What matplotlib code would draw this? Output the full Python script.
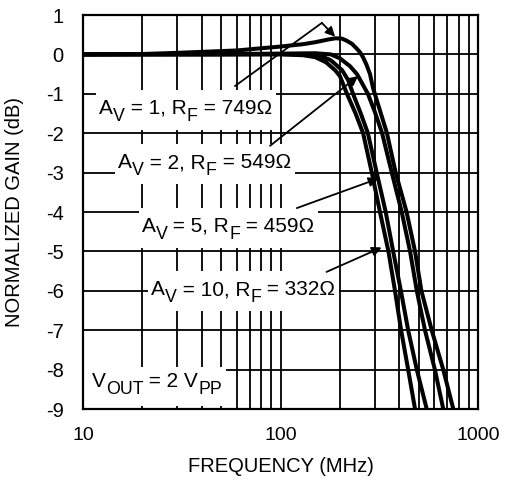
import matplotlib
matplotlib.use('Agg')
import matplotlib.pyplot as plt
import matplotlib.transforms as mtransforms
from matplotlib.patches import Rectangle
from matplotlib.ticker import NullFormatter

plt.rcParams['font.family'] = ['Liberation Sans', 'DejaVu Sans']
plt.rcParams['axes.unicode_minus'] = False

# curvas (frecuencia en MHz, ganancia en dB)
av1_f = [10, 20, 30, 60, 100, 130, 150, 175, 190, 205, 216, 230, 243, 253, 261,
         272, 284, 294, 320, 346, 383, 435, 480, 517, 583, 667, 750]
av1_g = [0, 0.01, 0.04, 0.1, 0.2, 0.26, 0.31, 0.38, 0.41, 0.4, 0.35, 0.27, 0.15,
         0.05, -0.06, -0.25, -0.5, -0.85, -1.45, -2.0, -3.0, -4.0, -5.0, -6.0,
         -7.0, -8.0, -9.0]

av2_f = [10, 50, 100, 150, 180, 200, 225, 244, 260, 277, 300, 327, 366, 411,
         453, 490, 539, 605, 667]
av2_g = [0, 0.01, 0.02, 0.03, 0.0, -0.1, -0.3, -0.5, -0.75, -1.0, -1.45, -2.0,
         -3.0, -4.0, -5.0, -6.0, -7.0, -8.0, -9.0]

av5_f = [10, 50, 100, 140, 160, 180, 205, 220, 233, 255, 277, 307, 341, 372,
         407, 443, 490, 550]
av5_g = [0, 0, 0.01, 0.0, -0.04, -0.15, -0.4, -0.65, -1.0, -1.5, -2.0, -3.0,
         -4.0, -5.0, -6.0, -7.0, -8.0, -9.0]

av10_f = [10, 50, 100, 130, 150, 170, 189, 200, 217, 240, 262, 290, 319, 352,
          380, 408, 443, 480]
av10_g = [0, 0, 0, -0.02, -0.07, -0.2, -0.4, -0.55, -1.0, -1.5, -2.0, -3.0,
          -4.0, -5.0, -6.0, -7.0, -8.0, -9.0]

yticks = [1, 0, -1, -2, -3, -4, -5, -6, -7, -8, -9]
xticks = [10, 100, 1000]
xlabels = ['10', '100', '1000']

# textos: (trozo, es_subindice)
lab1 = [('A', 0), ('V', 1), (' = 1, R', 0), ('F', 1), (' = 749Ω', 0)]
lab2 = [('A', 0), ('V', 1), (' = 2, R', 0), ('F', 1), (' = 549Ω', 0)]
lab5 = [('A', 0), ('V', 1), (' = 5, R', 0), ('F', 1), (' = 459Ω', 0)]
lab10 = [('A', 0), ('V', 1), (' = 10, R', 0), ('F', 1), (' = 332Ω', 0)]
labv = [('V', 0), ('OUT', 1), (' = 2 V', 0), ('PP', 1)]

fig = plt.figure(figsize=(5.05, 4.8), dpi=100)
ax = fig.add_axes([0.1644, 0.1479, 0.7821, 0.8208])

for f, g in [(av1_f, av1_g), (av2_f, av2_g), (av5_f, av5_g), (av10_f, av10_g)]:
    ax.plot(f, g, color='black', lw=2.9, solid_joinstyle='round', zorder=3)

ax.set_xscale('log')
ax.set_xlim(10, 1000)
ax.set_ylim(-9, 1)
ax.set_xticks(xticks)
ax.set_xticklabels(xlabels)
ax.xaxis.set_minor_formatter(NullFormatter())
ax.set_yticks(yticks)
ax.set_yticklabels([str(v) for v in yticks])
ax.tick_params(axis='both', which='both', length=0)
ax.tick_params(axis='x', pad=13, labelsize=14)
ax.tick_params(axis='y', pad=14, labelsize=14.5)
ax.grid(True, which='major', color='black', lw=1.3)
ax.grid(True, which='minor', axis='x', color='black', lw=1.3)
ax.set_axisbelow(True)
for s in ax.spines.values():
    s.set_linewidth(1.6)

ax.set_xlabel('FREQUENCY (MHz)', fontsize=14.5, labelpad=9)
ax.set_ylabel('NORMALIZED GAIN (dB)', fontsize=14.5)
ax.yaxis.set_label_coords(-0.15, 0.5)

rend = fig.canvas.get_renderer()


def etiqueta(x, y, partes, tam=15, caida=7, pad=(3, 4, 9, 5)):
    # pad = izquierda, derecha, arriba, abajo (pixeles)
    dx = 0
    cajas = []
    for s, sub in partes:
        tr = mtransforms.offset_copy(ax.transData, fig=fig, x=dx,
                                     y=-caida if sub else 0, units='dots')
        t = ax.text(x, y, s, transform=tr, fontsize=tam * (0.85 if sub else 1),
                    ha='left', va='baseline', zorder=5)
        bb = t.get_window_extent(rend)
        cajas.append(bb)
        dx += bb.width
    bb = mtransforms.Bbox.union(cajas)
    r = Rectangle((bb.x0 - pad[0], bb.y0 - pad[3]),
                  bb.width + pad[0] + pad[1], bb.height + pad[2] + pad[3],
                  transform=None, fc='white', ec='none', zorder=2.5)
    ax.add_artist(r)


etiqueta(12.1, -1.5, lab1)
etiqueta(15.1, -2.89, lab2)
etiqueta(19.8, -4.5, lab5)
etiqueta(22.1, -6.11, lab10)
etiqueta(11.1, -8.43, labv, pad=(8, 4, 5, 8))

flecha = dict(arrowstyle='-|>', color='black', lw=1.3, mutation_scale=14,
              shrinkA=0, shrinkB=0)

# flechas
ax.plot([58.9, 162], [-0.8, 0.8], color='black', lw=1.3, zorder=5)
ax.annotate('', xy=(189, 0.45), xytext=(162, 0.8), arrowprops=flecha, zorder=5)
ax.annotate('', xy=(247, -0.55), xytext=(88.5, -2.32), arrowprops=flecha, zorder=5)
ax.annotate('', xy=(313, -3.15), xytext=(121, -3.9), arrowprops=flecha, zorder=5)
ax.annotate('', xy=(325, -4.9), xytext=(171, -5.52), arrowprops=flecha, zorder=5)

fig.savefig('out.png', dpi=100)
